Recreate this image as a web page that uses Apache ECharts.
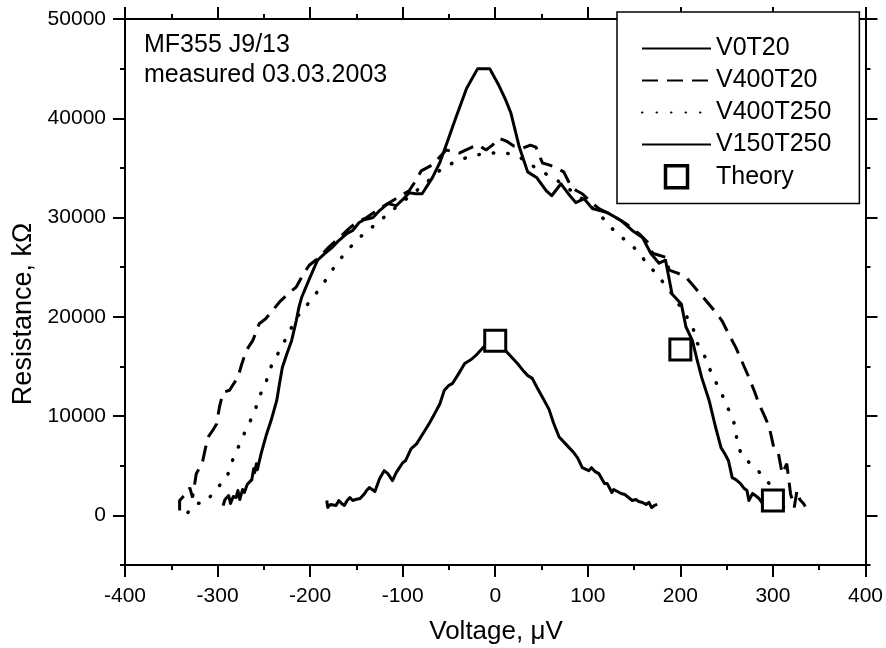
<!DOCTYPE html>
<html>
<head>
<meta charset="utf-8">
<script src="https://cdn.jsdelivr.net/npm/echarts@6/dist/echarts.min.js"></script>
<style>html,body{margin:0;padding:0;background:#fff}#c{width:886px;height:648px}</style>
</head>
<body>
<div id="c"></div>
<script>
const seriesNames = ['V0T20', 'V400T20', 'V400T250', 'V150T250', 'Theory'];

const v0t20 = [
  [-294,980],[-292,1600],[-290,1400],[-288,2000],[-286,1200],[-283,1900],[-280,1800],[-278,2500],[-276,1600],[-273,2600],[-271,2300],[-268,3100],[-266,2900],[-263,3600],[-261,4700],[-260,4300],[-258,5200],[-257,4600],[-253,6200],
  [-247,8200],[-242,9600],[-236,11600],[-233,13300],[-230,14900],[-225,16300],[-220,17600],[-215,19600],[-212,21000],[-209,22000],
  [-200,24000],[-192,25700],[-184,26400],[-176,27000],[-170,27600],[-165,28000],[-160,28400],[-154,28700],[-147,29500],[-141,29800],[-136,29900],
  [-132,30000],[-125,30700],[-116,31400],[-107,31200],[-100,31800],[-93,32500],[-86,32400],[-79,32400],[-68,34000],[-60,35500],[-53,37300],
  [-42,40200],[-31,43000],[-19,45000],[-6,45000],[4,43300],[11,41900],[17,40500],[26,37100],[35,34600],[45,34000],[55,32700],[61,32200],
  [71,33400],[79,32400],[87,31500],[96,31900],[105,30900],[113,30700],[121,30500],[136,29700],[148,28700],[159,28000],[168,26400],[177,25400],
  [184,25700],[191,22300],[201,21300],[206,19000],[213,17600],[218,15700],[223,13900],[231,11600],[238,8900],[244,6800],[248,6200],[252,5500],
  [256,3800],[260,3600],[265,3200],[269,2700],[272,2500],[274,1500],[278,2200],[281,2000],[285,1700],[288,1300],[291,1100]
];

const v400t20 = [
  [-341,500],[-341,1500],[-337,1900],[-333,2200],[-330,2800],[-327,1800],[-323,4200],[-320,4700],[-316,5500],[-313,6800],[-310,7900],
  [-305,8600],[-301,9200],[-298,10900],[-294,12400],[-287,12600],[-283,13200],[-278,13900],[-274,15200],[-269,16600],[-262,17600],[-255,19300],
  [-248,19800],[-240,20700],[-233,21500],[-224,22300],[-215,23000],[-208,24200],[-201,25200],[-194,25700],[-187,26300],[-180,27000],[-168,28000],
  [-159,28800],[-150,29500],[-139,30000],[-125,30900],[-111,31700],[-102,32200],[-93,32700],[-86,33700],[-80,34700],[-68,35300],[-60,36100],
  [-53,36800],[-39,36500],[-25,37100],[-18,37300],[-10,36800],[-3,37300],[4,38000],[12,37700],[20,37200],[30,37000],[38,37300],[44,37100],
  [51,35500],[58,35300],[64,35100],[74,34600],[82,33100],[88,32700],[94,32400],[103,31600],[112,30900],[123,30400],[132,29900],[141,29400],
  [155,28400],[166,27400],[170,26400],[177,26200],[184,26000],[188,24700],[197,24400],[206,24000],[217,22800],[228,21600],[237,20600],
  [245,19600],[252,18300],[260,16900],[267,15400],[274,13900],[280,12500],[285,11200],[291,10000],[296,8900],[301,6800],[306,6200],[310,4200],
  [315,5200],[319,2200],[323,800],[326,2500],[329,1600],[333,1200],[335,900]
];

const v400t250 = [
  [-332,300],[-323,1200],[-313,1300],[-307,2000],[-301,2700],[-290,3800],[-284,5500],[-276,7200],[-269,8700],[-260,10400],[-255,11900],
  [-247,13600],[-241,15300],[-231,16900],[-222,18600],[-213,20100],[-198,21800],[-186,23300],[-174,25000],[-160,26700],[-144,28200],
  [-127,29500],[-109,30900],[-89,32400],[-71,33800],[-57,35000],[-39,35800],[-21,36300],[-4,36500],[12,36500],[26,36100],[47,34800],
  [66,33800],[91,32100],[112,30400],[131,28400],[148,27200],[164,25400],[177,24000],[191,22300],[205,20300],[213,19100],[218,17400],
  [227,15900],[234,14200],[243,12600],[251,10900],[258,9300],[261,7700],[266,6000],[276,5200],[287,4200],[296,3200],[303,1500],[310,900],
  [317,500],[323,300]
];

const v150t250 = [
  [-182,1500],[-181,800],[-178,1100],[-176,1300],[-172,1000],[-169,1500],[-166,1200],[-163,1000],[-160,1500],[-157,1800],[-154,1500],
  [-151,1600],[-146,1700],[-142,2100],[-139,2500],[-136,2800],[-130,2400],[-125,3700],[-120,4500],[-116,4200],[-111,3500],[-107,4300],
  [-100,5300],[-97,5500],[-91,6700],[-85,7200],[-77,8400],[-71,9300],[-68,9800],[-60,11200],[-55,12600],[-50,13100],[-46,13300],
  [-40,14200],[-33,15300],[-26,15700],[-20,16200],[-15,16700],[-10,17200],[-5,17600],[0,17700],[5,17300],[10,16700],[13,16400],
  [18,15900],[24,15300],[30,14600],[35,14100],[40,13800],[45,12900],[51,11900],[58,10700],[63,9300],[69,7900],[75,7300],[80,6800],
  [85,6300],[89,5800],[94,4800],[101,4500],[104,4800],[108,4400],[112,4200],[118,3200],[121,3200],[126,2300],[128,2600],[132,2400],
  [136,2200],[140,2100],[144,1800],[148,1500],[152,1600],[155,1400],[159,1300],[163,1100],[166,1300],[169,800],[172,1000],[175,1100]
];

const theory = [[0,17600],[200,16700],[300,1500]];

const xTicks = [-400,-300,-200,-100,0,100,200,300,400];
const yMajor = [0,10000,20000,30000,40000,50000];
const yMinor = [-5000,5000,15000,25000,35000,45000];

const FONT = 'Liberation Sans, Arial, sans-serif';
const chart = echarts.init(document.getElementById('c'), null, {renderer:'canvas'});

function yAx(pos, showLabel, ticks, len) {
  return {
    type:'value', position:pos, min:-5000, max:50000, interval:5000,
    axisLine:{show:true, onZero:false, lineStyle:{color:'#000', width:2}},
    axisTick:{show:true, inside:false, length:len, customValues:ticks, lineStyle:{color:'#000', width:2}},
    axisLabel:{show:showLabel, customValues:yMajor, margin:19, color:'#000', fontFamily:FONT, fontSize:21,
      formatter:function(v){ return String(v); }},
    splitLine:{show:false}
  };
}
function xAx(pos, showLabel) {
  return {
    type:'value', position:pos, min:-400, max:400, interval:100,
    axisLine:{show:true, onZero:false, lineStyle:{color:'#000', width:2}},
    axisTick:{show:true, inside:false, length:12, lineStyle:{color:'#000', width:2}},
    minorTick:{show:true, splitNumber:2, length:5, lineStyle:{color:'#000', width:2}},
    axisLabel:{show:showLabel, margin:21, color:'#000', fontFamily:FONT, fontSize:21,
      customValues:xTicks, formatter:function(v){ return String(v); }},
    splitLine:{show:false}
  };
}

const lineBase = {type:'line', xAxisIndex:0, yAxisIndex:0, showSymbol:false, symbol:'none', smooth:false, animation:false, z:3};
const hideSym = {opacity:0};

chart.setOption({
  animation:false,
  backgroundColor:'#fff',
  grid:{left:125, right:19, top:19, bottom:83, containLabel:false},
  xAxis:[xAx('bottom', true), xAx('top', false)],
  yAxis:[yAx('left', true, yMajor, 12), yAx('right', false, yMajor, 12), yAx('left', false, yMinor, 5), yAx('right', false, yMinor, 5)],
  legend:{
    data:[
      {name:seriesNames[0], itemStyle:hideSym},
      {name:seriesNames[1], itemStyle:hideSym},
      {name:seriesNames[2], itemStyle:hideSym},
      {name:seriesNames[3], itemStyle:hideSym},
      {name:seriesNames[4], icon:'path://M0,0L20,0L20,20L0,20Z', itemStyle:{color:'#fff', borderColor:'#000', borderWidth:3.5}}
    ],
    orient:'vertical', left:617, top:12,
    padding:[24, 28, 14, 24], itemGap:7, itemWidth:69, itemHeight:22,
    backgroundColor:'#fff', borderColor:'#000', borderWidth:1.5, borderRadius:0,
    textStyle:{color:'#000', fontFamily:FONT, fontSize:25, lineHeight:25},
    z:10
  },
  graphic:[
    {type:'text', x:144, y:30, style:{text:'MF355 J9/13\nmeasured 03.03.2003', font:'25px '+FONT, fill:'#000', lineHeight:30}},
    {type:'text', x:496, y:632, style:{text:'Voltage, \u03bcV', font:'26px '+FONT, fill:'#000', textAlign:'center', textVerticalAlign:'middle'}},
    {type:'text', x:24, y:314, rotation:Math.PI/2, style:{text:'Resistance, k\u03a9', font:'27px '+FONT, fill:'#000', textAlign:'center', textVerticalAlign:'middle'}}
  ],
  series:[
    Object.assign({}, lineBase, {name:seriesNames[0], data:v0t20, lineStyle:{color:'#000', width:3, type:'solid', join:'round'}, itemStyle:{color:'#000'}}),
    Object.assign({}, lineBase, {name:seriesNames[1], data:v400t20, lineStyle:{color:'#000', width:3, type:[16,9]}, itemStyle:{color:'#000'}}),
    Object.assign({}, lineBase, {name:seriesNames[2], data:v400t250, lineStyle:{color:'#000', width:3.5, type:[0.5,14], cap:'round'}, itemStyle:{color:'#000'}}),
    Object.assign({}, lineBase, {name:seriesNames[3], data:v150t250, lineStyle:{color:'#000', width:3, type:'solid', join:'round'}, itemStyle:{color:'#000'}}),
    {type:'scatter', name:seriesNames[4], data:theory, xAxisIndex:0, yAxisIndex:0, symbol:'rect', symbolSize:21,
     itemStyle:{color:'#fff', borderColor:'#000', borderWidth:3, opacity:1}, z:5}
  ]
});
</script>
</body>
</html>
